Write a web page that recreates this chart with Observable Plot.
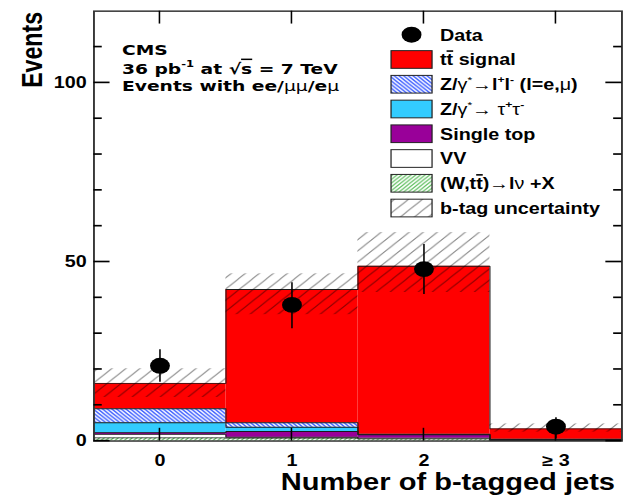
<!DOCTYPE html>
<html>
<head>
<meta charset="utf-8">
<script src="https://cdn.jsdelivr.net/npm/d3@7"></script>
<script src="https://cdn.jsdelivr.net/npm/@observablehq/plot@0.6"></script>
<style>
html, body { margin: 0; padding: 0; background: #fff; }
#chart svg { display: block; }
</style>
</head>
<body>
<div id="chart"></div>
<script>
// ---- data ----
const categories = ["0", "1", "2", "\u2265 3"];
const binX = [0, 1, 2, 3];
const ttSignal  = [7.1, 37.2, 46.9, 2.9];
const zll       = [3.9, 1.25, 0.1, 0.03];
const ztautau   = [2.8, 1.2, 0.1, 0.02];
const singleTop = [0.5, 1.6, 0.9, 0.3];
const vv        = [0.9, 0.25, 0.2, 0.05];
const wtt       = [0.9, 0.8, 0.6, 0.1];
const dataCounts  = [21, 38, 48, 4];
const dataErrLow  = [16.4, 31.4, 40.9, 0.6];
const dataErrHigh = [25.5, 44.2, 54.9, 6.5];
const btagUncLow  = [12.2, 35.3, 41.5, 2.5];
const btagUncHigh = [20.2, 46.7, 58.2, 4.8];
const yMajorTicks = [0, 50, 100];
const yMinorTicks = [10, 20, 30, 40, 60, 70, 80, 90, 110];

// stack order bottom -> top
const layerValues = [wtt, vv, singleTop, ztautau, zll, ttSignal];
const layerFills = ["url(#hatchW)", "#ffffff", "#990099", "#33ccff", "url(#hatchZll)", "#ff0000"];

// ---- build tables ----
const rects = [];
const edges = [];
const cum = binX.map(() => 0);
layerValues.forEach((vals, li) => {
  binX.forEach((b, i) => {
    const lo = cum[i], hi = lo + vals[i];
    rects.push({layer: li, x1: b - 0.5, x2: b + 0.5, y1: lo, y2: hi});
    cum[i] = hi;
    edges.push({layer: li, x: b - 0.5, y: hi});
  });
  edges.push({layer: li, x: binX[binX.length - 1] + 0.5, y: cum[binX.length - 1]});
});
const uncRows = binX.map((b, i) => ({x1: b - 0.5, x2: b + 0.5, lo: btagUncLow[i], hi: btagUncHigh[i]}));
const dataRows = binX.map((b, i) => ({x: b, n: dataCounts[i], lo: dataErrLow[i], hi: dataErrHigh[i]}));

const SANS = "'Liberation Sans', Arial, Helvetica, sans-serif";

// layout (in the 600x600 drawing space)
const W = 600, H = 600, ML = 90, MR = 1.5, MT = 13, MB = 67;
const MAJ = 15.5, MIN = 8;

const svg = Plot.plot({
  width: W,
  height: H,
  marginLeft: ML,
  marginRight: MR,
  marginTop: MT,
  marginBottom: MB,
  x: {domain: [-0.5, 3.5]},
  y: {domain: [0, 120]},
  style: {fontFamily: SANS, background: "#fff", color: "#000"},
  marks: [
    ...layerValues.map((_, li) =>
      Plot.rect(rects.filter(d => d.layer === li), {x1: "x1", x2: "x2", y1: "y1", y2: "y2", fill: layerFills[li]})
    ),
    Plot.line(edges, {x: "x", y: "y", z: "layer", curve: "step-after", stroke: "#1a1a1a", strokeWidth: 1}),
    Plot.rect(uncRows, {x1: "x1", x2: "x2", y1: "lo", y2: "hi", fill: "url(#hatchUnc)"}),
    Plot.ruleX(dataRows, {x: "x", y1: "lo", y2: "hi", stroke: "#000", strokeWidth: 1.5}),
    Plot.dot(dataRows, {x: "x", y: "n", r: 9.6, fill: "#000", stroke: "none"}),
    Plot.axisY({ticks: yMajorTicks, tickSize: 0, tickPadding: 7, tickFormat: d => String(d), fontSize: 19, fontWeight: "bold", label: null}),
    Plot.axisX({ticks: binX, tickSize: 0, tickPadding: 17, tickFormat: i => categories[i], fontSize: 19, fontWeight: "bold", label: null}),
    Plot.frame({stroke: "#333", strokeWidth: 1.8})
  ]
});

const s = d3.select(svg);
const xs = svg.scale("x"), ys = svg.scale("y");
const fLeft = xs.apply(-0.5), fRight = xs.apply(3.5), fBottom = ys.apply(0), fTop = ys.apply(120);

// inward tick marks placed with the plot's own scales
const tg = s.append("g").attr("stroke", "#000").attr("stroke-width", 2).attr("fill", "none");
function hTick(y, x1, x2) { tg.append("line").attr("x1", x1).attr("x2", x2).attr("y1", y).attr("y2", y); }
function vTick(x, y1, y2) { tg.append("line").attr("x1", x).attr("x2", x).attr("y1", y1).attr("y2", y2).attr("stroke-width", 1.5); }
yMajorTicks.forEach(v => { const y = ys.apply(v); hTick(y, fLeft, fLeft + MAJ); hTick(y, fRight - MAJ, fRight); });
yMinorTicks.forEach(v => { const y = ys.apply(v); hTick(y, fLeft, fLeft + MIN); hTick(y, fRight - MIN, fRight); });
binX.forEach(v => { const x = xs.apply(v); vTick(x, fBottom, fBottom - MAJ); vTick(x, fTop, fTop + MAJ); });

const defs = s.insert("defs", ":first-child");
function hatch(id, size, dir, color, width, bg, opacity) {
  const p = defs.append("pattern").attr("id", id).attr("patternUnits", "userSpaceOnUse")
    .attr("width", size).attr("height", size);
  if (bg) p.append("rect").attr("width", size).attr("height", size).attr("fill", bg);
  const n = size;
  const d = dir === "/"
    ? `M-1,1 L1,-1 M0,${n} L${n},0 M${n - 1},${n + 1} L${n + 1},${n - 1}`
    : `M-1,${n - 1} L1,${n + 1} M0,0 L${n},${n} M${n - 1},-1 L${n + 1},1`;
  p.append("path").attr("d", d).attr("stroke", color).attr("stroke-width", width)
    .attr("stroke-opacity", opacity == null ? 1 : opacity).attr("fill", "none");
}
hatch("hatchUnc", 13.5, "/", "#000", 1, null, 0.5);
hatch("hatchZll", 4.5, "\\", "#3a5cff", 1.5, "#ffffff");
hatch("hatchW", 4.5, "/", "#55bb55", 1.3, "#ffffff");

// annotations layer
const ann = s.append("g").attr("text-anchor", "start");
function richText(parent, x, y, segs, base) {
  const t = parent.append("text").attr("x", x).attr("y", y)
    .attr("font-family", base.family).attr("font-size", base.size)
    .attr("font-weight", "bold").attr("fill", "#000")
    .attr("text-anchor", base.anchor || "start");
  if (base.transform) t.attr("transform", base.transform).attr("x", 0).attr("y", 0);
  let shift = 0;
  for (const seg of segs) {
    const o = typeof seg === "string" ? {t: seg} : seg;
    const ts = t.append("tspan").text(o.t);
    let target = 0;
    if (o.sup) { target = -base.size * 0.42; ts.attr("font-size", base.size * 0.62); }
    if (target !== shift) { ts.attr("dy", target - shift); shift = target; }
    if (o.normal) ts.attr("font-weight", "normal");
    if (o.over) ts.style("text-decoration", "overline");
  }
  return t;
}

// CMS label
const CMSF = {family: "'DejaVu Sans', Verdana, sans-serif", size: 18};
richText(ann, 117.5, 66, ["CMS"], CMSF);
richText(ann, 117.5, 89, ["36 pb", {t: "-1", sup: true}, " at \u221A", {t: "s", over: true}, " = 7 TeV"], CMSF);
richText(ann, 117.5, 110, ["Events with ee/", {t: "\u03BC\u03BC", normal: true}, "/e", {t: "\u03BC", normal: true}], CMSF);

// axis titles
richText(ann, 0, 0, ["Events"], {family: SANS, size: 28, anchor: "end", transform: "translate(40.5,14.5) rotate(-90)"});
richText(ann, 592.3, 592.7, ["Number of b-tagged jets"], {family: SANS, size: 28, anchor: "end"});

// legend
const LF = {family: SANS, size: 19};
const legendEntries = [
  {kind: "dot", label: ["Data"]},
  {kind: "box", fill: layerFills[5], label: ["t", {t: "t", over: true}, " signal"]},
  {kind: "box", fill: layerFills[4], label: ["Z/", {t: "\u03B3", normal: true}, {t: "*", sup: true, normal: true}, {t: "\u2192", normal: true}, "l", {t: "+", sup: true}, "l", {t: "-", sup: true}, " (l=e,", {t: "\u03BC", normal: true}, ")"]},
  {kind: "box", fill: layerFills[3], label: ["Z/", {t: "\u03B3", normal: true}, {t: "*", sup: true, normal: true}, {t: "\u2192 \u03C4", normal: true}, {t: "+", sup: true}, {t: "\u03C4", normal: true}, {t: "-", sup: true}]},
  {kind: "box", fill: layerFills[2], label: ["Single top"]},
  {kind: "box", fill: layerFills[1], label: ["VV"]},
  {kind: "box", fill: layerFills[0], label: ["(W,t", {t: "t", over: true}, ")", {t: "\u2192", normal: true}, "l", {t: "\u03BD", normal: true}, " +X"]},
  {kind: "unc", fill: "url(#hatchUnc)", label: ["b-tag uncertainty"]}
];
const legY0 = 42, legDy = 29.95, boxX = 376.6, boxW = 39.5, boxH = 21.4, txtX = 423.8;
legendEntries.forEach((e, i) => {
  const cy = legY0 + i * legDy;
  if (e.kind === "dot") {
    ann.append("circle").attr("cx", boxX + boxW / 2).attr("cy", cy).attr("r", 9.6).attr("fill", "#000");
  } else {
    if (e.kind === "unc") ann.append("rect").attr("x", boxX).attr("y", cy - boxH / 2).attr("width", boxW).attr("height", boxH).attr("fill", "#fff");
    ann.append("rect").attr("x", boxX).attr("y", cy - boxH / 2).attr("width", boxW).attr("height", boxH)
      .attr("fill", e.fill).attr("stroke", "#222").attr("stroke-width", 1.2);
  }
  richText(ann, txtX, cy + 7, e.label, LF);
});

// stretch the 600x600 canvas to the 623x496 picture
svg.setAttribute("width", 623);
svg.setAttribute("height", 496);
svg.setAttribute("viewBox", "0 0 600 600");
svg.setAttribute("preserveAspectRatio", "none");
svg.style.maxWidth = "none";
svg.style.width = "623px";
svg.style.height = "496px";
document.getElementById("chart").appendChild(svg);
</script>
</body>
</html>
